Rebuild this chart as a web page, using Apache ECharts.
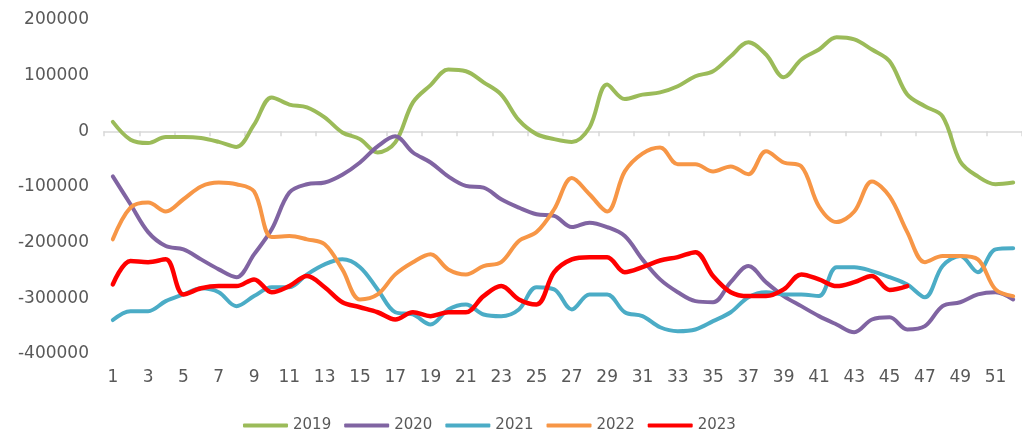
<!DOCTYPE html>
<html>
<head>
<meta charset="utf-8">
<script src="https://cdn.jsdelivr.net/npm/echarts@6/dist/echarts.min.js"></script>
<style>html,body{margin:0;padding:0;background:#fff;}#c{width:1022px;height:430px;}</style>
</head>
<body>
<div id="c"></div>
<script>
const categories = ['1','2','3','4','5','6','7','8','9','10','11','12','13','14','15','16','17','18','19','20','21','22','23','24','25','26','27','28','29','30','31','32','33','34','35','36','37','38','39','40','41','42','43','44','45','46','47','48','49','50','51','52'];
const seriesNames = ['2019','2020','2021','2022','2023'];
const s2019 = [17000,-15000,-21000,-10000,-10000,-12000,-19000,-28000,12000,61000,48000,43000,25000,-2000,-14000,-38000,-20000,52000,83000,111000,108000,88000,66000,20000,-5000,-14000,-19000,7000,84000,58000,66000,70000,81000,99000,108000,135000,160000,138000,97000,129000,147000,169000,165000,147000,126000,66000,45000,27000,-54000,-81000,-95000,-92000];
const s2020 = [-81000,-131000,-181000,-206000,-212000,-230000,-248000,-262000,-221000,-176000,-110000,-95000,-92000,-78000,-56000,-27000,-9000,-38000,-56000,-81000,-98000,-101000,-122000,-137000,-149000,-152000,-172000,-164000,-172000,-188000,-230000,-266000,-289000,-305000,-307000,-271000,-242000,-271000,-296000,-314000,-332000,-347000,-361000,-338000,-334000,-356000,-350000,-314000,-307000,-293000,-289000,-302000];
const s2021 = [-339000,-323000,-323000,-305000,-293000,-282000,-289000,-314000,-296000,-280000,-280000,-257000,-239000,-230000,-244000,-284000,-325000,-329000,-347000,-320000,-311000,-329000,-332000,-320000,-280000,-284000,-320000,-293000,-293000,-325000,-332000,-352000,-359000,-356000,-341000,-325000,-298000,-289000,-293000,-293000,-296000,-244000,-244000,-251000,-262000,-275000,-298000,-242000,-224000,-253000,-212000,-210000];
const s2022 = [-194000,-137000,-128000,-144000,-122000,-99000,-92000,-95000,-108000,-190000,-188000,-194000,-203000,-248000,-302000,-293000,-257000,-235000,-221000,-248000,-257000,-242000,-235000,-197000,-181000,-140000,-84000,-113000,-144000,-72000,-40000,-29000,-59000,-59000,-72000,-63000,-77000,-36000,-56000,-63000,-135000,-163000,-144000,-90000,-117000,-181000,-235000,-224000,-224000,-230000,-284000,-296000];
const s2023 = [-275000,-233000,-235000,-230000,-293000,-282000,-278000,-278000,-266000,-289000,-278000,-260000,-280000,-307000,-316000,-325000,-338000,-325000,-332000,-325000,-325000,-296000,-278000,-302000,-311000,-253000,-230000,-226000,-226000,-253000,-244000,-232000,-226000,-217000,-260000,-289000,-296000,-296000,-284000,-257000,-266000,-278000,-271000,-260000,-285000,-278000];
const yMin = -400000, yMax = 200000, yStep = 100000;
const colors = ['#9BBB59','#8064A2','#4BACC6','#F79646','#FF0000'];
const allData = [s2019, s2020, s2021, s2022, s2023];
const widths = [4, 4, 4, 4, 4.5];

const chart = echarts.init(document.getElementById('c'), null, {renderer:'canvas'});
const font = 'DejaVu Sans';
chart.setOption({
  animation: false,
  color: colors,
  grid: {left: 104, right: -9, top: 20, bottom: 76, containLabel: false},
  legend: {
    left: 238, top: 413,
    itemWidth: 45, itemHeight: 4, itemGap: 13,
    icon: 'roundRect',
    textStyle: {fontFamily: font, fontSize: 15, color: '#595959'},
    data: seriesNames
  },
  xAxis: [
    {
      type: 'category', data: categories, position: 'bottom', boundaryGap: true,
      axisLine: {show: false, onZero: false}, axisTick: {show: false},
      axisLabel: {interval: 1, fontFamily: font, fontSize: 17, color: '#595959', margin: 15}
    },
    {
      type: 'category', data: categories, position: 'bottom', boundaryGap: true,
      axisLine: {show: true, onZero: true, lineStyle: {color: '#D9D9D9', width: 1.5}},
      axisTick: {show: true, interval: 1, length: 5, lineStyle: {color: '#D9D9D9', width: 1.5}},
      axisLabel: {show: false}
    }
  ],
  yAxis: {
    type: 'value', min: yMin, max: yMax, interval: yStep,
    axisLine: {show: false}, axisTick: {show: false}, splitLine: {show: false},
    axisLabel: {fontFamily: font, fontSize: 17, color: '#595959', margin: 15,
      formatter: function (v) { return String(v); }}
  },
  series: seriesNames.map((n, i) => ({
    name: n, type: 'line', xAxisIndex: 0, data: allData[i], smooth: 0.35,
    symbol: 'none', lineStyle: {width: widths[i], color: colors[i], cap: 'round', join: 'round'},
    itemStyle: {color: colors[i]}
  }))
});
</script>
</body>
</html>
